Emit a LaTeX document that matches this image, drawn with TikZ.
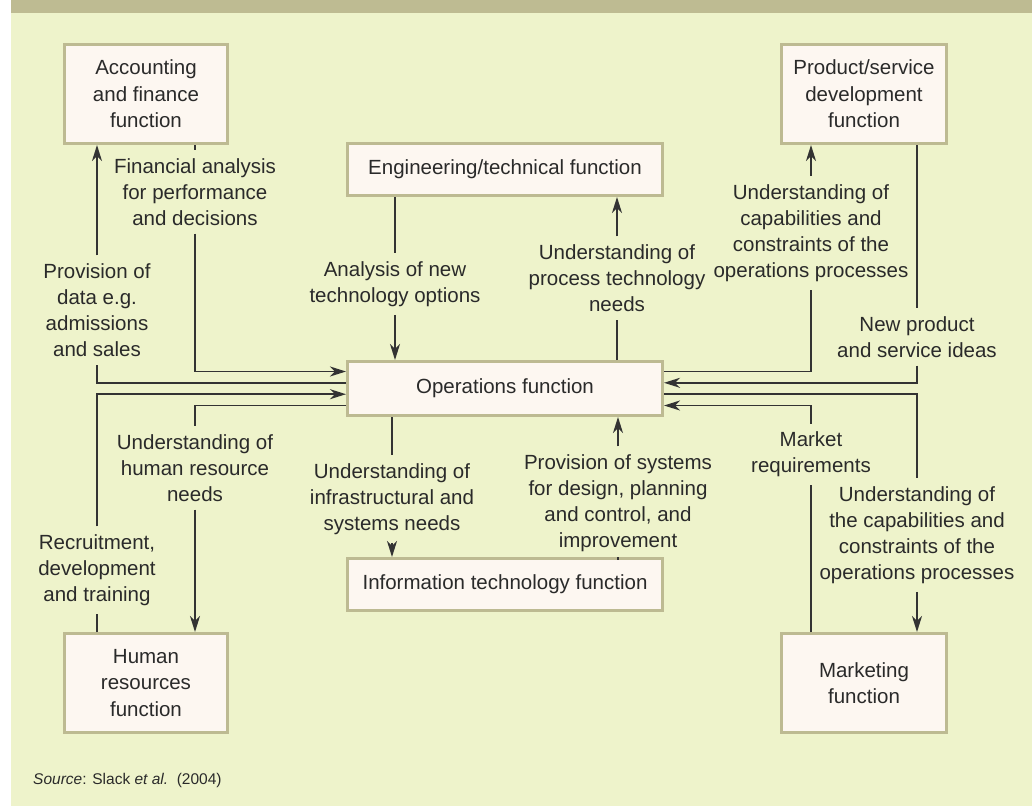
\documentclass[tikz,border=0pt]{standalone}
\usepackage{fontspec}
\setmainfont{Liberation Sans}
\usetikzlibrary{arrows.meta}

\definecolor{bgc}{HTML}{EEF3CB}
\definecolor{band}{HTML}{BEBB92}
\definecolor{boxfill}{HTML}{FDF7F1}
\definecolor{boxline}{HTML}{BDBA92}
\definecolor{linec}{HTML}{333333}
\definecolor{txt}{HTML}{2A2A2A}

\tikzset{
  func/.style={draw=boxline, line width=3pt, fill=boxfill, inner sep=2pt,
    align=center, text=txt, font=\fontsize{20.5}{26.5}\selectfont},
  lbl/.style={inner sep=8pt, align=center, text=txt,
    font=\fontsize{20.5}{26}\selectfont},
  link/.style={draw=linec, line width=1.6pt},
  flow/.style={link, -{Stealth[length=16pt,width=10pt,inset=5pt]}},
}

\begin{document}
\begin{tikzpicture}[x=1pt,y=-1pt]
\useasboundingbox (0,0) rectangle (1034,806);
\fill[white] (0,0) rectangle (1034,806);
\fill[bgc] (11,0) rectangle (1032,806);
\fill[band] (11,0) rectangle (1032,12.7);

% functions
\node[func, minimum width=315, minimum height=54] (ops) at (505,388.5) {Operations function};
\node[func, minimum width=315, minimum height=52] (eng) at (505,169.5) {Engineering/technical function};
\node[func, minimum width=315, minimum height=52] (it) at (505,584.5) {Information technology function};
\node[func, minimum width=163, minimum height=99] (acc) at (146,94) {Accounting\\and finance\\function};
\node[func, minimum width=165, minimum height=99] (prod) at (864,94) {Product/service\\development\\function};
\node[func, minimum width=163, minimum height=99] (hr) at (146,683) {Human\\resources\\function};
\node[func, minimum width=165, minimum height=99] (mkt) at (864,683) {Marketing\\function};

% labels
\node[lbl] (fin) at (195,192) {Financial analysis\\for performance\\and decisions};
\node[lbl] (prov) at (97,310) {Provision of\\data e.g.\\admissions\\and sales};
\node[lbl] (anew) at (395,284) {Analysis of new\\technology options};
\node[lbl] (uproc) at (617,278) {Understanding of\\process technology\\needs};
\node[lbl] (capab) at (811,233) {Understanding of\\capabilities and\\constraints of the\\operations processes};
\node[lbl] (newp) at (917,337) {New product\\and service ideas};
\node[lbl] (hrn) at (195,468) {Understanding of\\human resource\\needs};
\node[lbl] (rec) at (97,570) {Recruitment,\\development\\and training};
\node[lbl] (uinf) at (392,499) {Understanding of\\infrastructural and\\systems needs};
\node[lbl] (psys) at (618,503) {Provision of systems\\for design, planning\\and control, and\\improvement};
\node[lbl] (mreq) at (811,454.5) {Market\\requirements};
\node[lbl] (mcap) at (917,535) {Understanding of\\the capabilities and\\constraints of the\\operations processes};

% left side
\draw[link] (acc.south -| fin) -- (fin);
\draw[flow] (fin) |- ([yshift=17pt]ops.west);
\draw[link] ([yshift=5.7pt]ops.west) -| (prov);
\draw[flow] (prov) -- (prov |- acc.south);
\draw[link] (hr.north -| rec) -- (rec);
\draw[flow] (rec) |- ([yshift=-5.7pt]ops.west);
\draw[link] ([yshift=-17pt]ops.west) -| (hrn);
\draw[flow] (hrn) -- (hrn |- hr.north);

% right side
\draw[link] ([yshift=17pt]ops.east) -| (capab);
\draw[flow] (capab) -- (capab |- prod.south);
\draw[link] (prod.south -| newp) -- (newp);
\draw[flow] (newp) |- ([yshift=5.7pt]ops.east);
\draw[link] ([yshift=-5.7pt]ops.east) -| (mcap);
\draw[flow] (mcap) -- (mcap |- mkt.north);
\draw[link] (mkt.north -| mreq) -- (mreq);
\draw[flow] (mreq) |- ([yshift=-17pt]ops.east);

% middle
\draw[link] (eng.south -| anew) -- (anew);
\draw[flow] (anew) -- (anew |- ops.north);
\draw[link] (ops.north -| uproc) -- (uproc);
\draw[flow] (uproc) -- (uproc |- eng.south);
\draw[link] (ops.south -| uinf) -- (uinf);
\draw[flow] (uinf) -- (uinf |- it.north);
\draw[link] (it.north -| psys) -- (psys);
\draw[flow] (psys) -- (psys |- ops.south);

\node[anchor=west, inner sep=0pt, text=txt, font=\fontsize{15.5}{18}\selectfont] (src) at (33,780) {\textit{Source}: Slack \textit{et al.}\ \ (2004)};
\end{tikzpicture}
\end{document}
